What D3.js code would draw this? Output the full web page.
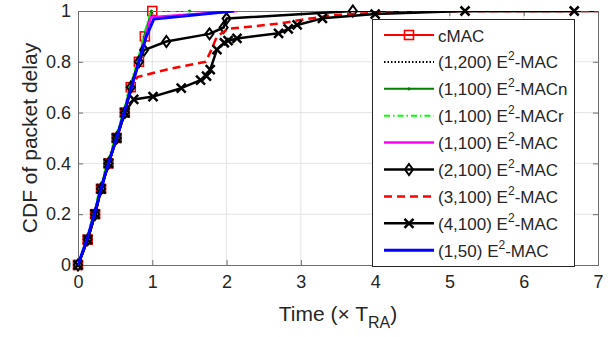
<!DOCTYPE html>
<html>
<head>
<meta charset="utf-8">
<script src="https://cdn.jsdelivr.net/npm/d3@7"></script>
<style>
  body { margin: 0; background: #fff; }
  text { font-family: "Liberation Sans", Arial, sans-serif; fill: #262626; }
</style>
</head>
<body>
<div id="chart"></div>
<script>
const xTicks = [0, 1, 2, 3, 4, 5, 6, 7];
const yTicks = [0, 0.2, 0.4, 0.6, 0.8, 1];
const yTickLabels = ["0", "0.2", "0.4", "0.6", "0.8", "1"];

// cMAC
const cmacX = [0, 0.13, 0.23, 0.31, 0.41, 0.52, 0.63, 0.71, 0.82, 0.9, 1.0];
const cmacY = [0, 0.1, 0.2, 0.3, 0.4, 0.5, 0.6, 0.7, 0.8, 0.9, 1.0];
// (1,200) E2-MAC
const e200X = [0, 0.13, 0.23, 0.31, 0.41, 0.52, 0.63, 0.71, 0.82, 0.9, 1.0, 1.45];
const e200Y = [0, 0.1, 0.2, 0.3, 0.4, 0.5, 0.6, 0.7, 0.8, 0.9, 1.0, 1.0];
// (1,100) E2-MACn
const n100X = [0, 0.12, 0.22, 0.3, 0.4, 0.51, 0.62, 0.7, 0.81, 0.89, 0.99, 1.5];
const n100Y = [0, 0.1, 0.2, 0.3, 0.4, 0.5, 0.6, 0.7, 0.8, 0.9, 1.0, 1.0];
// (1,100) E2-MACr
const r100X = [0, 0.11, 0.21, 0.29, 0.39, 0.5, 0.61, 0.69, 0.8, 0.88, 0.98, 1.5];
const r100Y = [0, 0.1, 0.2, 0.3, 0.4, 0.5, 0.6, 0.7, 0.8, 0.9, 1.0, 1.0];
// (1,100) E2-MAC
const m100X = [0, 0.13, 0.23, 0.31, 0.41, 0.52, 0.63, 0.72, 0.82, 0.91, 0.98, 2.15];
const m100Y = [0, 0.1, 0.2, 0.3, 0.4, 0.5, 0.6, 0.7, 0.8, 0.9, 0.975, 1.0];
// (2,100) E2-MAC
const d2X = [0, 0.13, 0.23, 0.31, 0.41, 0.52, 0.63, 0.71, 0.82, 0.89, 1.19, 1.77, 1.96, 2.0, 3.7, 7.5];
const d2Y = [0, 0.1, 0.2, 0.3, 0.4, 0.5, 0.6, 0.7, 0.8, 0.846, 0.88, 0.91, 0.935, 0.97, 1.0, 1.0];
// (3,100) E2-MAC
const d3X = [0, 0.13, 0.23, 0.31, 0.41, 0.52, 0.63, 0.71, 0.8, 1.2, 1.72, 1.8, 1.87, 2.02, 2.7, 3.0, 3.45, 4.0, 5.2, 7.5];
const d3Y = [0, 0.1, 0.2, 0.3, 0.4, 0.5, 0.6, 0.7, 0.74, 0.77, 0.8, 0.85, 0.9, 0.93, 0.95, 0.965, 0.984, 0.993, 1.0, 1.0];
// (4,100) E2-MAC
const d4X = [0, 0.13, 0.23, 0.31, 0.41, 0.52, 0.63, 0.75, 1.01, 1.39, 1.65, 1.73, 1.78, 1.87, 1.97, 2.02, 2.14, 2.7, 2.83, 2.95, 3.29, 4.0, 5.21, 6.68];
const d4Y = [0, 0.1, 0.2, 0.3, 0.4, 0.5, 0.6, 0.652, 0.663, 0.696, 0.728, 0.744, 0.769, 0.848, 0.875, 0.883, 0.892, 0.912, 0.93, 0.945, 0.971, 0.988, 1.0, 1.0];
// (1,50) E2-MAC
const b50X = [0, 0.12, 0.22, 0.31, 0.41, 0.52, 0.62, 0.72, 0.82, 0.92, 1.02, 2.1];
const b50Y = [0, 0.1, 0.2, 0.3, 0.4, 0.5, 0.6, 0.7, 0.8, 0.9, 0.968, 1.0];

const series = [
  {pre: "cMAC", sup: "", post: "", xs: cmacX, ys: cmacY, color: "#ff0000", width: 2, dash: null, marker: "square"},
  {pre: "(1,200) E", sup: "2", post: "-MAC", xs: e200X, ys: e200Y, color: "#000000", width: 2, dash: "1.5,2", marker: null},
  {pre: "(1,100) E", sup: "2", post: "-MACn", xs: n100X, ys: n100Y, color: "#008000", width: 2, dash: null, marker: "dot"},
  {pre: "(1,100) E", sup: "2", post: "-MACr", xs: r100X, ys: r100Y, color: "#00ff00", width: 2, dash: "6,3,1.5,3", marker: null},
  {pre: "(1,100) E", sup: "2", post: "-MAC", xs: m100X, ys: m100Y, color: "#ff00ff", width: 2.5, dash: null, marker: null},
  {pre: "(2,100) E", sup: "2", post: "-MAC", xs: d2X, ys: d2Y, color: "#000000", width: 2.5, dash: null, marker: "diamond"},
  {pre: "(3,100) E", sup: "2", post: "-MAC", xs: d3X, ys: d3Y, color: "#ff0000", width: 2.5, dash: "8,5", marker: null},
  {pre: "(4,100) E", sup: "2", post: "-MAC", xs: d4X, ys: d4Y, color: "#000000", width: 2.5, dash: null, marker: "cross"},
  {pre: "(1,50) E", sup: "2", post: "-MAC", xs: b50X, ys: b50Y, color: "#0000ff", width: 3, dash: null, marker: null}
];

const W = 610, H = 337;
const margin = {top: 11, right: 12, bottom: 72, left: 78};

const x = d3.scaleLinear().domain([0, 7]).range([margin.left, W - margin.right]);
const y = d3.scaleLinear().domain([0, 1]).range([H - margin.bottom, margin.top]);

const svg = d3.select("#chart").append("svg")
  .attr("width", W)
  .attr("height", H);

svg.append("defs").append("clipPath").attr("id", "plotClip")
  .append("rect")
  .attr("x", x(0)).attr("y", y(1))
  .attr("width", x(7) - x(0)).attr("height", y(0) - y(1));

// grid
svg.append("g").selectAll("line").data(xTicks.slice(1, -1)).join("line")
  .attr("x1", d => x(d)).attr("x2", d => x(d))
  .attr("y1", y(0)).attr("y2", y(1))
  .attr("stroke", "#e3e3e3").attr("stroke-width", 1);
svg.append("g").selectAll("line").data(yTicks.slice(1, -1)).join("line")
  .attr("x1", x(0)).attr("x2", x(7))
  .attr("y1", d => y(d)).attr("y2", d => y(d))
  .attr("stroke", "#e3e3e3").attr("stroke-width", 1);

// axes (ticks inside, box on all four sides)
const bottomAxis = d3.axisBottom(x).tickValues(xTicks).tickSize(-5).tickPadding(10).tickFormat(d3.format("d"));
const leftAxis = d3.axisLeft(y).tickValues(yTicks).tickSize(-5).tickPadding(7).tickFormat((d, i) => yTickLabels[i]);
const topAxis = d3.axisTop(x).tickValues(xTicks).tickSize(-5).tickFormat("");
const rightAxis = d3.axisRight(y).tickValues(yTicks).tickSize(-5).tickFormat("");

const gx = svg.append("g").attr("transform", `translate(0,${y(0)})`).call(bottomAxis);
const gy = svg.append("g").attr("transform", `translate(${x(0)},0)`).call(leftAxis);
const gt = svg.append("g").attr("transform", `translate(0,${y(1)})`).call(topAxis);
const gr = svg.append("g").attr("transform", `translate(${x(7)},0)`).call(rightAxis);
[gx, gy, gt, gr].forEach(g => {
  g.select(".domain").attr("stroke", "#6e6e6e").attr("stroke-width", 1);
  g.selectAll(".tick line").attr("stroke", "#6e6e6e");
  g.selectAll(".tick text").style("font-size", "18px").attr("fill", "#262626")
    .style("font-family", "'Liberation Sans', Arial, sans-serif");
});

// axis labels
svg.append("text")
  .attr("transform", `translate(37,${(y(0) + y(1)) / 2}) rotate(-90)`)
  .attr("text-anchor", "middle")
  .style("font-size", "21px")
  .text("CDF of packet delay");

const xl = svg.append("text")
  .attr("x", (x(0) + x(7)) / 2).attr("y", 321)
  .attr("text-anchor", "middle")
  .style("font-size", "21px");
xl.append("tspan").text("Time (\u00d7 T");
xl.append("tspan").attr("dy", 7).style("font-size", "16px").text("RA");
xl.append("tspan").attr("dy", -7).text(")");

// markers
function drawMarker(g, type, cx, cy, color) {
  if (type === "square") {
    g.append("rect").attr("x", cx - 4.5).attr("y", cy - 4.5).attr("width", 9).attr("height", 9)
      .attr("fill", "none").attr("stroke", color).attr("stroke-width", 1.6);
  } else if (type === "diamond") {
    g.append("path").attr("d", `M${cx},${cy - 5.5}L${cx + 4},${cy}L${cx},${cy + 5.5}L${cx - 4},${cy}Z`)
      .attr("fill", "none").attr("stroke", color).attr("stroke-width", 2);
  } else if (type === "cross") {
    g.append("path").attr("d", `M${cx - 4.5},${cy - 4.5}L${cx + 4.5},${cy + 4.5}M${cx - 4.5},${cy + 4.5}L${cx + 4.5},${cy - 4.5}`)
      .attr("stroke", color).attr("stroke-width", 2.5);
  } else if (type === "dot") {
    g.append("circle").attr("cx", cx).attr("cy", cy).attr("r", 1.6).attr("fill", color);
  }
}

const line = d3.line().x(d => x(d[0])).y(d => y(d[1]));

series.forEach(s => {
  const pts = s.xs.map((v, i) => [v, s.ys[i]]);
  const g = svg.append("g");
  g.append("path")
    .attr("d", line(pts))
    .attr("clip-path", "url(#plotClip)")
    .attr("fill", "none")
    .attr("stroke", s.color)
    .attr("stroke-width", s.width)
    .attr("stroke-dasharray", s.dash)
    .attr("stroke-linejoin", "round");
  if (s.marker) {
    pts.filter(p => p[0] <= 7).forEach(p => drawMarker(g, s.marker, x(p[0]), y(p[1]), s.color));
  }
});

// legend
const lg = svg.append("g");
lg.append("rect").attr("x", 372.5).attr("y", 19.5).attr("width", 202).attr("height", 247)
  .attr("fill", "#fff").attr("stroke", "#262626").attr("stroke-width", 1);
series.forEach((s, i) => {
  const cy = 35 + i * 26.9;
  lg.append("line").attr("x1", 384).attr("x2", 434).attr("y1", cy).attr("y2", cy)
    .attr("stroke", s.color).attr("stroke-width", s.width)
    .attr("stroke-dasharray", s.dash);
  if (s.marker) drawMarker(lg, s.marker, 409, cy, s.color);
  const t = lg.append("text").attr("x", 438).attr("y", cy + 6.5).style("font-size", "17px");
  t.append("tspan").text(s.pre);
  if (s.sup) {
    t.append("tspan").attr("dy", -8).style("font-size", "12px").text(s.sup);
    t.append("tspan").attr("dy", 8).text(s.post);
  }
});
</script>
</body>
</html>
